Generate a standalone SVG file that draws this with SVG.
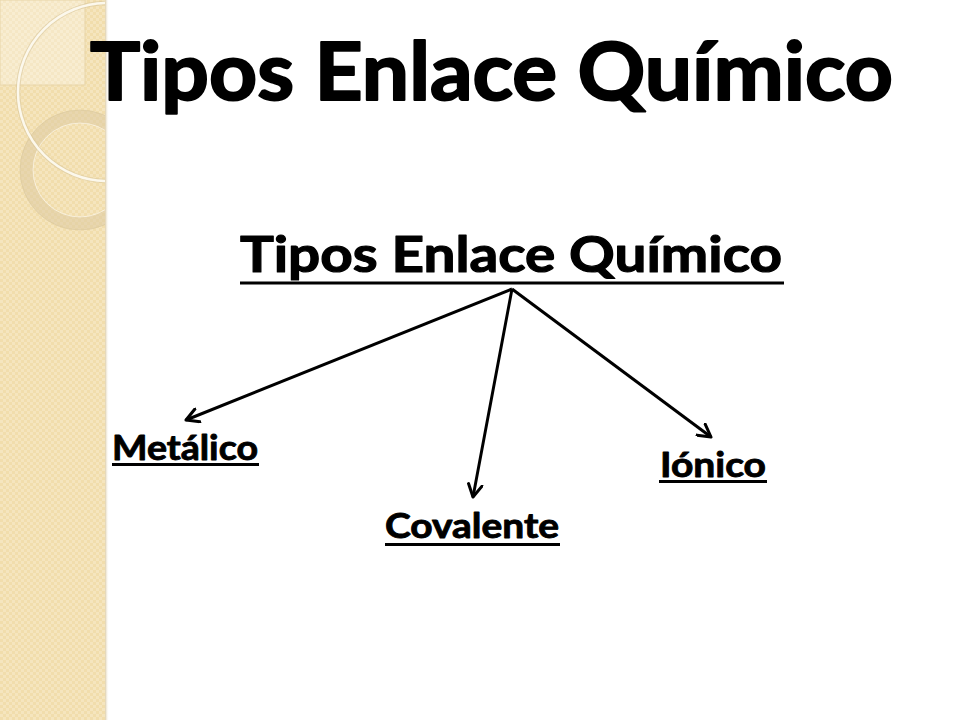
<svg xmlns="http://www.w3.org/2000/svg" width="960" height="720" viewBox="0 0 960 720">
  <style>
    .title { font-family: Lato, "Open Sans", "Liberation Sans", sans-serif; font-weight: bold; fill: #000; stroke: #000; stroke-linejoin: round; }
    .label { font-family: Lato, "Open Sans", "Liberation Sans", sans-serif; font-weight: bold; font-size: 35px; fill: #000; stroke: #000; stroke-width: 0.9; stroke-linejoin: round; }
    .uline { stroke: #000; stroke-width: 3; }
    .conn { stroke: #000; stroke-width: 3; fill: none; marker-end: url(#arrow); }
  </style>
  <defs>
    <pattern id="check" width="6" height="6" patternUnits="userSpaceOnUse">
      <rect width="6" height="6" fill="#F1DDAC"/>
      <rect width="3" height="3" fill="#F5E5BE"/>
      <rect x="3" y="3" width="3" height="3" fill="#F5E5BE"/>
    </pattern>
    <linearGradient id="edge" x1="0" y1="0" x2="1" y2="0">
      <stop offset="0" stop-color="#D9C8A0" stop-opacity="0.9"/>
      <stop offset="1" stop-color="#FFFFFF" stop-opacity="0"/>
    </linearGradient>
    <clipPath id="bandclip">
      <rect x="0" y="0" width="105" height="720"/>
    </clipPath>
    <marker id="arrow" viewBox="0 0 12 12" refX="10" refY="6" markerWidth="5.5" markerHeight="5.5" orient="auto" markerUnits="strokeWidth">
      <path d="M1,1 L10,6 L1,11" fill="none" stroke="#000" stroke-width="2.2" stroke-linecap="round" stroke-linejoin="round"/>
    </marker>
  </defs>

  <rect width="960" height="720" fill="#FFFFFF"/>

  <g id="band">
    <rect x="0" y="0" width="105" height="720" fill="url(#check)"/>
    <rect x="105" y="0" width="4" height="720" fill="url(#edge)"/>
    <g clip-path="url(#bandclip)">
      <rect x="0" y="0" width="85" height="85" fill="#FFFFFF" fill-opacity="0.3" stroke="#E8D5A8" stroke-width="1"/>
      <circle cx="80" cy="170" r="53.5" fill="none" stroke="#DCCBA2" stroke-opacity="0.55" stroke-width="13"/>
      <circle cx="80" cy="170" r="60" fill="none" stroke="#D8C59A" stroke-opacity="0.5" stroke-width="1"/>
      <circle cx="80" cy="170" r="47" fill="none" stroke="#FFFFFF" stroke-opacity="0.5" stroke-width="1"/>
      <circle cx="107" cy="92" r="89" fill="none" stroke="#D9C69B" stroke-opacity="0.6" stroke-width="4.5"/>
      <circle cx="107" cy="92" r="89" fill="none" stroke="#FCF8EC" stroke-width="2.5"/>
    </g>
  </g>

  <g id="title">
    <text class="title" x="90" y="100" font-size="80" stroke-width="2" textLength="803" lengthAdjust="spacingAndGlyphs">Tipos Enlace Químico</text>
  </g>

  <g id="root">
    <text class="title" x="240" y="272" font-size="50" stroke-width="1.2" textLength="542" lengthAdjust="spacingAndGlyphs">Tipos Enlace Químico</text>
    <line class="uline" x1="240" y1="283" x2="784" y2="283"/>
  </g>

  <g id="metalico">
    <text class="label" x="112" y="460" textLength="146" lengthAdjust="spacingAndGlyphs">Metálico</text>
    <line class="uline" x1="112" y1="464.5" x2="259" y2="464.5" stroke-width="2.5"/>
  </g>

  <g id="covalente">
    <text class="label" x="385" y="538" textLength="174" lengthAdjust="spacingAndGlyphs">Covalente</text>
    <line class="uline" x1="385" y1="544.5" x2="560" y2="544.5" stroke-width="2.5"/>
  </g>

  <g id="ionico">
    <text class="label" x="660" y="477" textLength="106" lengthAdjust="spacingAndGlyphs">Iónico</text>
    <line class="uline" x1="659" y1="481.5" x2="767" y2="481.5" stroke-width="2.5"/>
  </g>

  <g id="connectors">
    <line class="conn" x1="512" y1="289" x2="186" y2="420"/>
    <line class="conn" x1="512" y1="289" x2="473" y2="497"/>
    <line class="conn" x1="512" y1="289" x2="711" y2="437"/>
  </g>
</svg>
